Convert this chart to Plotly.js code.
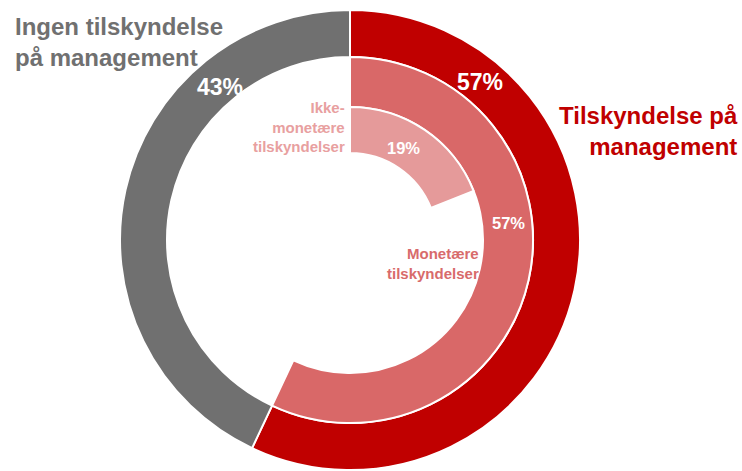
<!DOCTYPE html>
<html>
<head>
<meta charset="utf-8">
<script src="https://cdn.plot.ly/plotly-3.0.1.min.js"></script>
<style>html,body{margin:0;padding:0;background:#fff;}#chart{width:742px;height:471px;}</style>
</head>
<body>
<div id="chart"></div>
<script>
// Data
const outerLabels = ["Tilskyndelse på management", "Ingen tilskyndelse på management"];
const outerValues = [57, 43];
const middleLabels = ["Monetære tilskyndelser", ""];
const middleValues = [57, 43];
const innerLabels = ["Ikke-monetære tilskyndelser", ""];
const innerValues = [19, 81];
const pctOuter = ["57%", "43%"];
const pctMiddle = ["57%"];
const pctInner = ["19%"];

const W = 742, H = 471, CX = 350, CY = 240;
function dom(r) {
  return {x: [(CX - r) / W, (CX + r) / W], y: [(H - CY - r) / H, (H - CY + r) / H]};
}
function px(x) { return x / W; }
function py(y) { return (H - y) / H; }

const FONT = "Liberation Sans, Arial, sans-serif";
const RED = "#C00000", GRAY = "#707070", PINK = "#D96868", LPINK = "#E59A9A";

const common = {type: "pie", sort: false, direction: "clockwise", rotation: 0,
  textinfo: "none", hoverinfo: "none", showlegend: false};

const traces = [
  Object.assign({}, common, {
    labels: outerLabels, values: outerValues, domain: dom(230), hole: 183 / 230,
    marker: {colors: [RED, GRAY], line: {color: "#ffffff", width: 2}}
  }),
  Object.assign({}, common, {
    labels: middleLabels.map((l, i) => l || "m" + i), values: middleValues, domain: dom(183), hole: 133 / 183,
    marker: {colors: [PINK, "rgba(0,0,0,0)"], line: {color: "#ffffff", width: [2, 0]}}
  }),
  Object.assign({}, common, {
    labels: innerLabels.map((l, i) => l || "i" + i), values: innerValues, domain: dom(133), hole: 87 / 133,
    marker: {colors: [LPINK, "rgba(0,0,0,0)"], line: {color: "#ffffff", width: [2, 0]}}
  })
];

function ann(text, x, y, size, color, align, xanchor) {
  return {text: "<b>" + text + "</b>", x: px(x), y: py(y), xref: "paper", yref: "paper",
    showarrow: false, align: align || "center", xanchor: xanchor || "center", yanchor: "middle",
    font: {family: FONT, size: size, color: color}};
}

const annotations = [
  ann(pctOuter[0], 480, 82, 23, "#ffffff"),
  ann(pctOuter[1], 220, 87, 23, "#ffffff"),
  ann(pctMiddle[0], 508, 223, 16.5, "#ffffff"),
  ann(pctInner[0], 403, 148, 16.5, "#ffffff"),
  ann("Tilskyndelse på<br>management", 740, 131, 24, RED, "right", "right"),
  ann("Ingen tilskyndelse<br>på management", 13, 42, 24, GRAY, "left", "left"),
  ann("Ikke-<br>monetære<br>tilskyndelser", 347, 127, 15, "#E8A0A0", "right", "right"),
  ann("Monetære<br>tilskyndelser", 481, 263, 15, "#D86B6B", "right", "right")
];

const layout = {width: W, height: H, margin: {l: 0, r: 0, t: 0, b: 0},
  paper_bgcolor: "#ffffff", plot_bgcolor: "#ffffff", showlegend: false,
  annotations: annotations};

Plotly.newPlot("chart", traces, layout, {staticPlot: true, displayModeBar: false});
</script>
</body>
</html>
